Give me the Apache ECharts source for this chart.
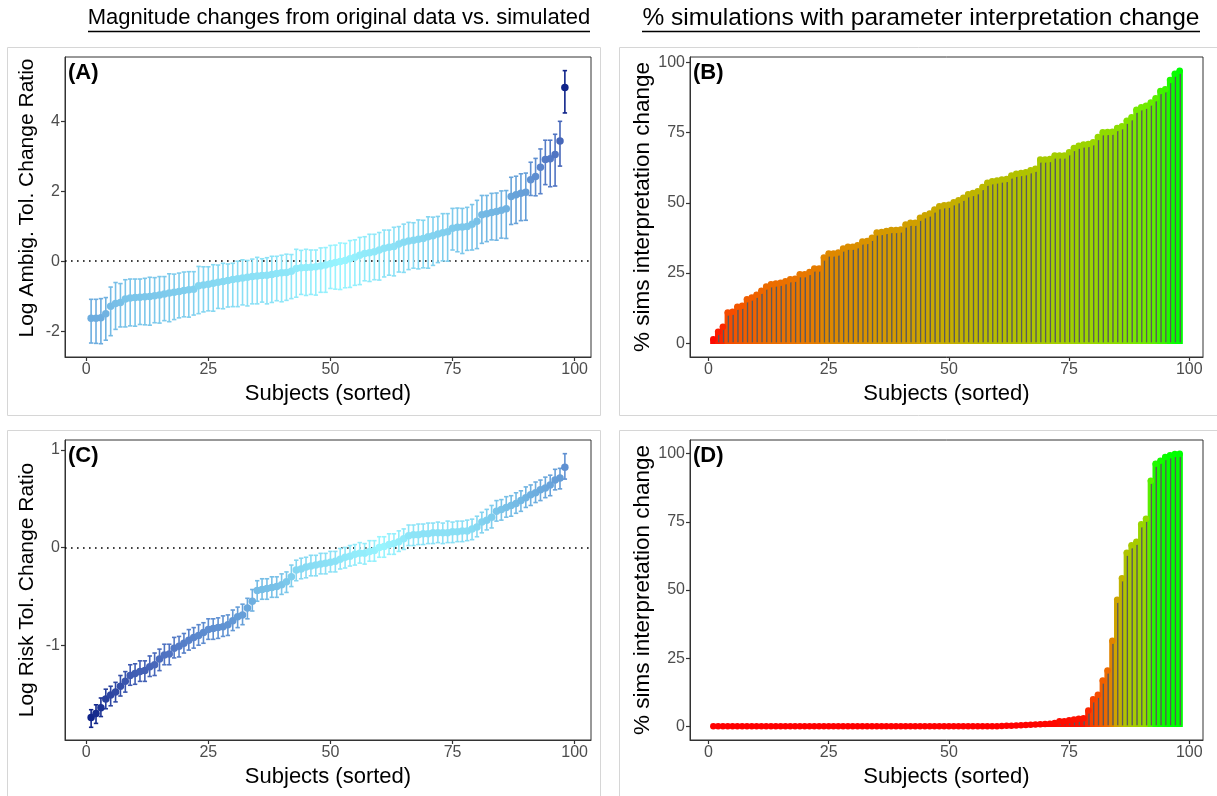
<!DOCTYPE html>
<html>
<head>
<meta charset="utf-8">
<script src="https://cdn.jsdelivr.net/npm/echarts@6/dist/echarts.min.js"></script>
<style>
  html, body { margin: 0; padding: 0; background: #fff; }
  #chart { width: 1217px; height: 796px; }
</style>
</head>
<body>
<div id="chart"></div>
<script>
// subjects 1..98 (sorted)
var subjects = [];
for (var s = 1; s <= 98; s++) subjects.push(s);

var xTicks = [0, 25, 50, 75, 100];
var yTicksA = [-2, 0, 2, 4];
var yTicksC = [-1, 0, 1];
var yTicksPct = [0, 25, 50, 75, 100];

// (A) log ambiguity tolerance change ratio, with lower / upper error half widths
var ambigRatio = [-1.63,-1.63,-1.62,-1.50,-1.29,-1.21,-1.18,-1.08,-1.05,-1.04,
  -1.03,-1.02,-1.01,-0.99,-0.97,-0.94,-0.91,-0.89,-0.87,-0.84,
  -0.82,-0.80,-0.70,-0.68,-0.66,-0.63,-0.60,-0.58,-0.55,-0.52,
  -0.50,-0.48,-0.46,-0.44,-0.42,-0.41,-0.40,-0.38,-0.35,-0.33,
  -0.32,-0.29,-0.21,-0.19,-0.18,-0.17,-0.16,-0.14,-0.11,-0.07,
  -0.04,-0.01,0.02,0.07,0.11,0.17,0.22,0.24,0.27,0.32,
  0.37,0.40,0.42,0.49,0.54,0.58,0.60,0.63,0.65,0.70,
  0.73,0.78,0.81,0.84,0.94,0.97,0.98,0.99,1.06,1.14,
  1.33,1.36,1.39,1.42,1.46,1.50,1.85,1.90,1.94,1.97,
  2.33,2.42,2.69,2.91,2.93,3.05,3.44,4.97];
var ambigErrHi = [0.54,0.54,0.55,0.46,0.55,0.60,0.54,0.55,0.54,0.53,
  0.52,0.53,0.55,0.52,0.53,0.50,0.55,0.52,0.53,0.53,
  0.52,0.50,0.55,0.52,0.50,0.53,0.49,0.52,0.47,0.46,
  0.50,0.52,0.48,0.50,0.53,0.48,0.50,0.52,0.49,0.50,
  0.52,0.48,0.55,0.50,0.52,0.49,0.48,0.52,0.50,0.52,
  0.50,0.53,0.49,0.52,0.50,0.51,0.48,0.53,0.50,0.50,
  0.52,0.49,0.55,0.50,0.52,0.53,0.50,0.55,0.52,0.57,
  0.53,0.50,0.55,0.52,0.57,0.55,0.53,0.55,0.56,0.60,
  0.55,0.52,0.55,0.53,0.55,0.52,0.55,0.53,0.56,0.55,
  0.50,0.52,0.52,0.55,0.53,0.58,0.56,0.48];
var ambigErrLo = [0.71,0.72,0.74,0.76,0.84,0.74,0.70,0.80,0.80,0.82,
  0.78,0.80,0.82,0.77,0.80,0.76,0.82,0.78,0.75,0.75,
  0.78,0.74,0.80,0.77,0.76,0.80,0.75,0.78,0.76,0.78,
  0.80,0.77,0.82,0.78,0.80,0.76,0.82,0.80,0.78,0.83,
  0.80,0.78,0.82,0.76,0.80,0.78,0.81,0.75,0.78,0.71,
  0.76,0.80,0.78,0.82,0.80,0.84,0.78,0.82,0.80,0.86,
  0.82,0.80,0.84,0.80,0.86,0.82,0.80,0.85,0.84,0.90,
  0.85,0.82,0.80,0.84,0.62,0.70,0.76,0.68,0.74,0.78,
  0.82,0.80,0.78,0.82,0.80,0.85,0.80,0.82,0.78,0.80,
  0.45,0.55,0.76,0.72,0.80,0.90,0.72,0.73];

// (B) % simulations with interpretation change (ambiguity)
var ambigPct = [1.5,4.1,5.9,11.0,11.2,13.0,13.4,15.7,16.3,17.3,
  18.7,20.2,21.0,21.3,21.6,22.1,22.8,23.0,24.6,24.6,
  25.4,26.6,26.6,30.5,32.0,32.0,32.3,33.7,34.4,34.4,
  34.9,36.2,36.4,37.6,39.4,39.6,40.0,40.3,40.3,40.5,
  42.3,42.9,42.9,44.7,45.6,46.2,47.6,48.8,49.1,49.3,
  50.2,50.9,51.8,53.0,53.5,54.1,55.6,57.1,57.7,57.9,
  58.3,58.5,59.7,60.3,60.6,60.9,61.6,62.1,65.4,65.4,
  65.6,66.8,66.8,66.8,68.0,69.5,70.3,70.7,70.9,71.5,
  73.4,75.1,75.2,75.3,76.6,77.2,79.2,80.4,83.1,84.0,
  84.5,85.7,87.2,89.8,90.4,93.7,95.9,97.0];

// (C) log risk tolerance change ratio, with error half widths
var riskRatio = [-1.74,-1.70,-1.64,-1.55,-1.51,-1.48,-1.42,-1.37,-1.31,-1.29,
  -1.27,-1.26,-1.22,-1.20,-1.14,-1.10,-1.09,-1.03,-1.01,-0.98,
  -0.95,-0.92,-0.90,-0.87,-0.84,-0.83,-0.82,-0.81,-0.79,-0.75,
  -0.71,-0.69,-0.62,-0.55,-0.44,-0.43,-0.42,-0.41,-0.40,-0.38,
  -0.35,-0.30,-0.23,-0.22,-0.20,-0.19,-0.18,-0.17,-0.16,-0.15,
  -0.14,-0.12,-0.10,-0.09,-0.07,-0.06,-0.06,-0.04,-0.03,0.00,
  0.01,0.03,0.04,0.06,0.09,0.12,0.13,0.13,0.14,0.14,
  0.15,0.15,0.15,0.15,0.16,0.16,0.17,0.17,0.19,0.21,
  0.26,0.28,0.31,0.37,0.39,0.41,0.43,0.45,0.48,0.51,
  0.54,0.56,0.59,0.61,0.64,0.69,0.71,0.82];
var riskErrHi = [0.08,0.09,0.10,0.10,0.09,0.10,0.11,0.10,0.11,0.10,
  0.11,0.10,0.11,0.12,0.10,0.11,0.10,0.11,0.10,0.10,
  0.11,0.10,0.11,0.10,0.11,0.10,0.10,0.11,0.10,0.11,
  0.10,0.11,0.10,0.12,0.10,0.11,0.10,0.11,0.10,0.11,
  0.10,0.12,0.10,0.11,0.10,0.11,0.10,0.11,0.10,0.11,
  0.10,0.11,0.10,0.11,0.10,0.11,0.10,0.11,0.10,0.11,
  0.10,0.11,0.10,0.11,0.10,0.11,0.10,0.11,0.10,0.11,
  0.10,0.11,0.10,0.12,0.10,0.11,0.10,0.11,0.10,0.11,
  0.10,0.11,0.12,0.11,0.10,0.11,0.10,0.11,0.10,0.11,
  0.10,0.11,0.10,0.11,0.10,0.11,0.10,0.14];
var riskErrLo = [0.10,0.10,0.09,0.10,0.11,0.10,0.10,0.11,0.10,0.11,
  0.10,0.11,0.10,0.11,0.12,0.10,0.11,0.10,0.11,0.10,
  0.10,0.11,0.10,0.11,0.10,0.11,0.11,0.10,0.11,0.10,
  0.11,0.10,0.11,0.10,0.11,0.10,0.11,0.10,0.11,0.10,
  0.11,0.10,0.11,0.10,0.11,0.10,0.11,0.10,0.11,0.10,
  0.11,0.10,0.11,0.10,0.11,0.10,0.11,0.10,0.11,0.10,
  0.11,0.10,0.11,0.10,0.11,0.10,0.11,0.10,0.11,0.10,
  0.11,0.10,0.11,0.10,0.11,0.10,0.11,0.10,0.11,0.10,
  0.11,0.10,0.11,0.10,0.11,0.10,0.11,0.10,0.11,0.10,
  0.11,0.10,0.11,0.10,0.11,0.10,0.11,0.12];

// (D) % simulations with interpretation change (risk)
var riskPct = [0,0,0,0,0,0,0,0,0,0,
  0,0,0,0,0,0,0,0,0,0,
  0,0,0,0,0,0,0,0,0,0,
  0,0,0,0,0,0,0,0,0,0,
  0,0,0,0,0,0,0,0,0,0,
  0,0,0,0,0,0,0,0,0,0,
  0.1,0.2,0.2,0.3,0.4,0.5,0.6,0.7,0.8,0.9,
  1.0,1.2,1.9,1.9,2.2,2.5,2.8,3.0,5.8,9.9,
  11.6,16.8,20.5,31.4,46.4,54.3,63.7,66.4,67.7,74.1,
  76.1,90.1,96.3,97.4,98.8,99.4,99.9,100.0];

// colour ramps
var blueRamp = ['#98f5ff','#86d8f2','#76bde6','#68a3da','#5d8bcf','#5073c2','#405cb2','#2c44a0','#10248a'];
var redGreenRamp = ['#ff0000','#f45300','#e87700','#d99200','#c8ab00','#b1c200','#98d700','#70eb00','#00ff00'];

function hex2rgb(h) { return [parseInt(h.substr(1,2),16), parseInt(h.substr(3,2),16), parseInt(h.substr(5,2),16)]; }
function ramp(stops, t) {
  t = Math.max(0, Math.min(1, t));
  var pos = t * (stops.length - 1);
  var i = Math.min(Math.floor(pos), stops.length - 2);
  var f = pos - i;
  var a = hex2rgb(stops[i]), b = hex2rgb(stops[i + 1]);
  return 'rgb(' + Math.round(a[0] + (b[0]-a[0])*f) + ',' + Math.round(a[1] + (b[1]-a[1])*f) + ',' + Math.round(a[2] + (b[2]-a[2])*f) + ')';
}
function absMax(arr) { var m = 0; arr.forEach(function (v) { m = Math.max(m, Math.abs(v)); }); return m; }

var FONT = '"Liberation Sans", Arial, sans-serif';

function errorSeries(gridIdx, vals, lo, hi) {
  var m = absMax(vals);
  return {
    type: 'custom', xAxisIndex: gridIdx, yAxisIndex: gridIdx, z: 3,
    data: subjects.map(function (x, i) { return [x, vals[i] - lo[i], vals[i] + hi[i], vals[i]]; }),
    renderItem: function (params, api) {
      var x = api.value(0);
      var c = ramp(blueRamp, Math.abs(api.value(3)) / m);
      var top = api.coord([x, api.value(2)]);
      var bot = api.coord([x, api.value(1)]);
      var half = api.size([0.9, 0])[0] / 2;
      var st = { stroke: c, lineWidth: 1.6 };
      return { type: 'group', children: [
        { type: 'line', shape: { x1: top[0], y1: top[1], x2: bot[0], y2: bot[1] }, style: st },
        { type: 'line', shape: { x1: top[0] - half, y1: top[1], x2: top[0] + half, y2: top[1] }, style: st },
        { type: 'line', shape: { x1: bot[0] - half, y1: bot[1], x2: bot[0] + half, y2: bot[1] }, style: st }
      ]};
    }
  };
}

function pointSeries(gridIdx, vals, stops, useAbs, size, zeroLine) {
  var m = useAbs ? absMax(vals) : Math.max.apply(null, vals);
  var ser = {
    type: 'scatter', xAxisIndex: gridIdx, yAxisIndex: gridIdx, z: 4,
    symbolSize: size,
    data: subjects.map(function (x, i) {
      var t = useAbs ? Math.abs(vals[i]) / m : vals[i] / m;
      return { value: [x, vals[i]], itemStyle: { color: ramp(stops, t), opacity: 1 } };
    })
  };
  if (zeroLine) {
    ser.markLine = {
      silent: true, symbol: 'none', z: 2, animation: false,
      label: { show: false },
      lineStyle: { color: '#000', type: [1.6, 4.4], width: 1.7 },
      data: [{ yAxis: 0 }]
    };
  }
  return ser;
}

function stemSeries(gridIdx, vals) {
  var m = Math.max.apply(null, vals);
  return {
    type: 'custom', xAxisIndex: gridIdx, yAxisIndex: gridIdx, z: 3,
    data: subjects.map(function (x, i) { return [x, vals[i]]; }),
    renderItem: function (params, api) {
      var x = api.value(0), v = api.value(1);
      var c = ramp(redGreenRamp, v / m);
      var p0 = api.coord([x - 0.5, 0]);
      var p1 = api.coord([x + 0.5, v]);
      var base = api.coord([x, 0]);
      var tip = api.coord([x, v]);
      return { type: 'group', children: [
        { type: 'rect', shape: { x: p0[0], y: p1[1], width: p1[0] - p0[0], height: p0[1] - p1[1] },
          style: { fill: c, stroke: c, lineWidth: 1.5 } },
        { type: 'line', shape: { x1: base[0] + 0.6, y1: base[1] - 1, x2: tip[0] + 0.6, y2: tip[1] + 2 },
          style: { stroke: '#5a5a5a', lineWidth: 1.4 } }
      ]};
    }
  };
}

function xAxisFor(gridIdx, min, max) {
  return {
    gridIndex: gridIdx, type: 'value', min: min, max: max,
    splitLine: { show: false },
    axisLine: { show: true, onZero: false, lineStyle: { color: '#333', width: 1 } },
    axisTick: { show: true, length: 4, customValues: xTicks, lineStyle: { color: '#333', width: 1.2 } },
    axisLabel: { customValues: xTicks, color: '#4d4d4d', fontSize: 16, fontFamily: FONT, margin: 5 },
    name: 'Subjects (sorted)', nameLocation: 'middle', nameGap: 26,
    nameTextStyle: { color: '#000', fontSize: 22, fontFamily: FONT }
  };
}
function yAxisFor(gridIdx, min, max, ticks, name, gap, size, shift) {
  return {
    gridIndex: gridIdx, type: 'value', min: min, max: max,
    splitLine: { show: false },
    axisLine: { show: true, onZero: false, lineStyle: { color: '#333', width: 1 } },
    axisTick: { show: true, length: 4, customValues: ticks, lineStyle: { color: '#333', width: 1.2 } },
    axisLabel: { customValues: ticks, color: '#4d4d4d', fontSize: 16, fontFamily: FONT, margin: 5 },
    name: name, nameLocation: 'middle', nameGap: gap,
    nameTextStyle: { color: '#000', fontSize: size, fontFamily: FONT, padding: [0, 0, 0, shift] }
  };
}

var gridBox = { show: true, borderColor: '#333', borderWidth: 1, backgroundColor: '#fff' };

function panelText(x, y, t) {
  return { type: 'text', x: x, y: y, z: 50, style: { text: t, fill: '#000', font: 'bold 22px ' + FONT } };
}
function frame(x, y, w, h) {
  return { type: 'rect', z: -10, shape: { x: x, y: y, width: w, height: h }, style: { fill: null, stroke: '#d6d6d6', lineWidth: 1 } };
}

var chart = echarts.init(document.getElementById('chart'), null, { renderer: 'canvas' });
var option = {
  animation: false,
  backgroundColor: '#fff',
  grid: [
    Object.assign({ left: 65, top: 57, width: 526, height: 300 }, gridBox),
    Object.assign({ left: 690, top: 57, width: 513, height: 300 }, gridBox),
    Object.assign({ left: 65, top: 440, width: 526, height: 300 }, gridBox),
    Object.assign({ left: 690, top: 440, width: 513, height: 300 }, gridBox)
  ],
  xAxis: [
    xAxisFor(0, -4.35, 103.35),
    xAxisFor(1, -3.85, 102.85),
    xAxisFor(2, -4.35, 103.35),
    xAxisFor(3, -3.85, 102.85)
  ],
  yAxis: [
    yAxisFor(0, -2.74, 5.84, yTicksA, 'Log Ambig. Tol. Change Ratio', 27, 21, 18),
    yAxisFor(1, -4.85, 101.85, yTicksPct, '% sims interpretation change', 34, 22.5, 0),
    yAxisFor(2, -1.97, 1.10, yTicksC, 'Log Risk Tol. Change Ratio', 27, 21, 0),
    yAxisFor(3, -5, 105, yTicksPct, '% sims interpretation change', 34, 22.5, 0)
  ],
  series: [
    errorSeries(0, ambigRatio, ambigErrLo, ambigErrHi),
    pointSeries(0, ambigRatio, blueRamp, true, 7.5, true),
    stemSeries(1, ambigPct),
    pointSeries(1, ambigPct, redGreenRamp, false, 6.5, false),
    errorSeries(2, riskRatio, riskErrLo, riskErrHi),
    pointSeries(2, riskRatio, blueRamp, true, 7.5, true),
    stemSeries(3, riskPct),
    pointSeries(3, riskPct, redGreenRamp, false, 6.5, false)
  ],
  graphic: [
    frame(7.5, 47.5, 593, 368),
    frame(619.5, 47.5, 640, 368),
    frame(7.5, 430.5, 593, 400),
    frame(619.5, 430.5, 640, 400),
    { type: 'text', x: 339, y: 18, z: 50, style: { text: 'Magnitude changes from original data vs. simulated', fill: '#000', font: '22px ' + FONT, align: 'center', verticalAlign: 'middle' } },
    { type: 'line', z: 50, shape: { x1: 88, y1: 31.5, x2: 590, y2: 31.5 }, style: { stroke: '#000', lineWidth: 1.3 } },
    { type: 'text', x: 921, y: 18, z: 50, style: { text: '% simulations with parameter interpretation change', fill: '#000', font: '24.5px ' + FONT, align: 'center', verticalAlign: 'middle' } },
    { type: 'line', z: 50, shape: { x1: 642, y1: 31.5, x2: 1200, y2: 31.5 }, style: { stroke: '#000', lineWidth: 1.3 } },
    panelText(68, 62, '(A)'),
    panelText(693, 62, '(B)'),
    panelText(68, 445, '(C)'),
    panelText(693, 445, '(D)')
  ]
};
chart.setOption(option);
</script>
</body>
</html>
